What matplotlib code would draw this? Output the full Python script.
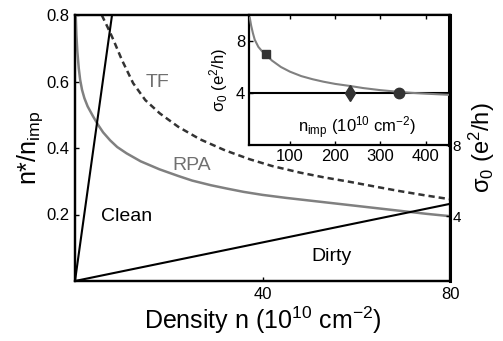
import matplotlib
matplotlib.use("Agg")
import matplotlib.pyplot as plt

plt.rcParams['font.family'] = ['Liberation Sans', 'DejaVu Sans']
plt.rcParams['mathtext.fontset'] = 'custom'
plt.rcParams['mathtext.rm'] = 'Liberation Sans'
plt.rcParams['mathtext.it'] = 'Liberation Sans'
plt.rcParams['mathtext.default'] = 'regular'

# ---- data ----
rpa_n = [0.15, 0.3, 0.5, 0.8, 1.1, 1.5, 2.0, 2.7, 3.9, 5.0, 6.0, 7.5, 9.0, 11.0, 14.0,
         18.0, 22.0, 25.0, 29.0, 32.4, 36.0, 40.0, 45.0, 50.0, 55.0, 60.0, 65.0, 70.0, 75.0, 80.0]
rpa_y = [0.80, 0.74, 0.69, 0.64, 0.605, 0.575, 0.55, 0.525, 0.494, 0.468, 0.447, 0.423, 0.403,
         0.384, 0.360, 0.336, 0.316, 0.302, 0.288, 0.278, 0.268, 0.259, 0.250, 0.242, 0.234,
         0.226, 0.218, 0.210, 0.202, 0.195]

tf_n = [5.7, 7.0, 8.2, 10.0, 12.4, 15.0, 18.1, 22.0, 26.7, 32.0, 37.3, 42.0, 48.0, 53.0,
        58.7, 64.0, 69.0, 74.5, 80.0]
tf_y = [0.80, 0.762, 0.725, 0.665, 0.595, 0.544, 0.504, 0.464, 0.426, 0.393, 0.366, 0.346,
        0.326, 0.312, 0.298, 0.284, 0.271, 0.258, 0.246]

clean_n = [0, 7.9]
clean_y = [0, 0.8]
dirty_n = [0, 80]
dirty_y = [0, 0.232]

inset_nimp = [11, 14, 18, 22, 30, 38, 46, 60, 80, 100, 125, 150, 174, 200, 233, 262, 300,
              337, 370, 400, 452]
inset_sigma = [9.8, 9.2, 8.6, 8.1, 7.55, 7.22, 6.98, 6.5, 6.0, 5.64, 5.3, 5.06, 4.87, 4.70,
               4.54, 4.38, 4.22, 4.10, 4.01, 3.95, 3.86]
inset_hline = 4
square_pt = (46, 6.98)
diamond_pt = (233, 4.0)
circle_pt = (341, 4.0)

main_xticks = [40, 80]
main_yticks = [0.2, 0.4, 0.6, 0.8]
right_yticks = [4, 8]
inset_xticks = [100, 200, 300, 400]
inset_yticks = [4, 8]

# ---- figure ----
W, H = 503, 341
fig = plt.figure(figsize=(W / 100, H / 100), dpi=100)

L, R, T, B = 75, 450, 15, 281
ax = fig.add_axes([L / W, 1 - B / H, (R - L) / W, (B - T) / H])

grey = '#808080'
ax.plot(rpa_n, rpa_y, color=grey, lw=1.8, zorder=3)
ax.plot(tf_n, tf_y, color='#333333', lw=1.8, dashes=(2.5, 1.6), zorder=3)
ax.plot(clean_n, clean_y, color='black', lw=1.5, zorder=4)
ax.plot(dirty_n, dirty_y, color='black', lw=1.5, zorder=4)

ax.set_xlim(0, 80)
ax.set_ylim(0, 0.8)
ax.set_xticks(main_xticks)
ax.set_yticks(main_yticks)
ax.set_yticklabels(['0.2', '0.4', '0.6', '0.8'])
ax.tick_params(direction='in', length=3, width=1, labelsize=12, top=True, right=False, pad=4)
for s in ax.spines.values():
    s.set_linewidth(1.6)

ax.set_xlabel('Density n (10$^{10}$ cm$^{-2}$)', fontsize=18, labelpad=2)
ax.set_ylabel('n*/n$_{imp}$', fontsize=18, labelpad=1)

ax.text(17.7, 0.598, 'TF', color='#707070', fontsize=14, ha='center', va='center')
ax.text(25.0, 0.346, 'RPA', color='#707070', fontsize=14, ha='center', va='center')
ax.text(10.9, 0.195, 'Clean', color='black', fontsize=14, ha='center', va='center')
ax.text(54.8, 0.075, 'Dirty', color='black', fontsize=14, ha='center', va='center')

# right axis
ax2 = ax.twinx()
ax2.set_ylim(0.337, 15.33)
ax2.set_yticks(right_yticks)
ax2.tick_params(direction='in', length=3, width=1, labelsize=11, pad=2)
for s in ax2.spines.values():
    s.set_linewidth(1.6)
ax2.spines['right'].set_linewidth(2.2)
ax2.set_ylabel('σ$_0$ (e$^2$/h)', fontsize=17, labelpad=4)

# inset
iL, iR, iT, iB = 249.3, 449, 15, 145
axi = fig.add_axes([iL / W, 1 - iB / H, (iR - iL) / W, (iB - iT) / H])
axi.set_facecolor('white')
axi.plot(inset_nimp, inset_sigma, color=grey, lw=1.5, zorder=3)
axi.axhline(inset_hline, color='black', lw=1.5, zorder=2)
axi.plot(*square_pt, marker='s', color='#333333', ms=6, zorder=4)
axi.plot(*diamond_pt, marker='d', color='#333333', ms=8, zorder=4)
axi.plot(*circle_pt, marker='o', color='#333333', ms=7.5, zorder=4)
axi.set_xlim(10, 452)
axi.set_ylim(0, 10)
axi.set_xticks(inset_xticks)
axi.set_yticks(inset_yticks)
axi.tick_params(direction='in', length=3, width=1, labelsize=12, top=True, pad=3)
for s in axi.spines.values():
    s.set_linewidth(1.6)
axi.spines['right'].set_linewidth(2.2)
axi.text(0.54, 0.13, 'n$_{imp}$ (10$^{10}$ cm$^{-2}$)', transform=axi.transAxes,
         fontsize=12, ha='center', va='center')
axi.set_ylabel('σ$_0$ (e$^2$/h)', fontsize=12, labelpad=4)

fig.savefig('out.png', dpi=100)
